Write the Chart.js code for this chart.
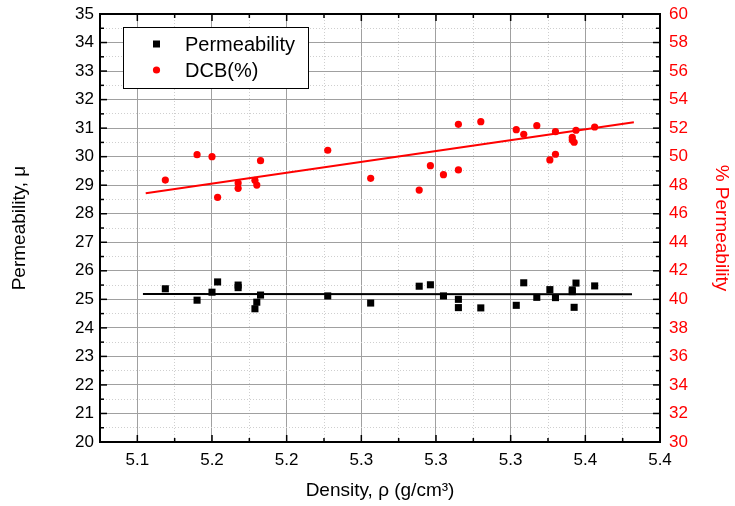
<!DOCTYPE html>
<html>
<head>
<meta charset="utf-8">
<script src="https://cdn.jsdelivr.net/npm/chart.js@4.4.1/dist/chart.umd.min.js"></script>
<style>
  body { margin: 0; background: #fff; }
</style>
</head>
<body>
<canvas id="densityChart" width="735" height="506"></canvas>
<script>
// Permeability (left axis) vs density
const densPerm = [5.155, 5.172, 5.180, 5.183, 5.194, 5.194, 5.203, 5.204, 5.206, 5.242, 5.265, 5.291, 5.297, 5.304,
  5.312, 5.312, 5.324, 5.343, 5.347, 5.354, 5.361, 5.364, 5.373, 5.373, 5.374, 5.375, 5.385];
const permeability = [25.37, 24.97, 25.25, 25.61, 25.50, 25.41, 24.67, 24.90, 25.15, 25.12, 24.87, 25.46, 25.51, 25.12,
  25.00, 24.71, 24.70, 24.79, 25.58, 25.07, 25.34, 25.06, 25.33, 25.27, 24.72, 25.57, 25.47];

// DCB(%) (right axis) vs density
const densDcb = [5.155, 5.172, 5.180, 5.183, 5.194, 5.194, 5.203, 5.204, 5.206, 5.242, 5.265, 5.291, 5.297, 5.304,
  5.312, 5.312, 5.324, 5.343, 5.347, 5.354, 5.361, 5.364, 5.364, 5.373, 5.373, 5.374, 5.375, 5.385];
const dcbPercent = [48.36, 50.14, 50.00, 47.15, 48.15, 47.78, 48.34, 48.01, 49.72, 50.45, 48.48, 47.66, 49.37, 48.74,
  52.27, 49.07, 52.45, 51.89, 51.57, 52.17, 49.77, 50.17, 51.75, 51.36, 51.17, 51.01, 51.85, 52.08];

// Linear fits (end points)
const permFitX = [5.143, 5.405];
const permFitY = [25.19, 25.18];
const dcbFitX = [5.1445, 5.406];
const dcbFitY = [47.43, 52.41];

// X axis ticks: every 0.02, labelled every other one
const xTicks = [5.12, 5.14, 5.16, 5.18, 5.20, 5.22, 5.24, 5.26, 5.28, 5.30, 5.32, 5.34, 5.36, 5.38, 5.40, 5.42];
const xTickLabels = ["5.1", "5.2", "5.2", "5.3", "5.3", "5.3", "5.4", "5.4"];

const FONT = "'Liberation Sans', Arial, sans-serif";
const RED = "#ff0000";

function toPoints(xs, ys) {
  return xs.map((x, i) => ({ x: x, y: ys[i] }));
}

// Fixed axis box sizes so the plot area lands where the original has it
function fixBox(size) {
  return (scale) => {
    if (scale.isHorizontal()) scale.height = size;
    else scale.width = size;
    scale.paddingTop = 0;
    scale.paddingBottom = 0;
    scale.paddingLeft = 0;
    scale.paddingRight = 0;
  };
}

// Frame with inward tick marks on all four sides
const frameTicks = {
  id: "frameTicks",
  afterDraw(chart) {
    const { ctx, chartArea: a, scales } = chart;
    const seg = (x1, y1, x2, y2) => {
      ctx.beginPath();
      ctx.moveTo(x1, y1);
      ctx.lineTo(x2, y2);
      ctx.stroke();
    };
    ctx.save();
    ctx.strokeStyle = "#000";
    ctx.lineWidth = 1.5;
    scales.x.ticks.forEach((t, i) => {
      const len = i % 2 ? 7 : 4;
      const px = scales.x.getPixelForValue(t.value);
      seg(px, a.bottom, px, a.bottom - len);
      seg(px, a.top, px, a.top + len);
    });
    scales.y.ticks.forEach((t) => {
      const len = t.value % 1 === 0 ? 7 : 4;
      const py = scales.y.getPixelForValue(t.value);
      seg(a.left, py, a.left + len, py);
    });
    scales.y2.ticks.forEach((t) => {
      const len = t.value % 2 === 0 ? 7 : 4;
      const py = scales.y2.getPixelForValue(t.value);
      seg(a.right, py, a.right - len, py);
    });
    ctx.lineWidth = 2;
    ctx.strokeRect(a.left, a.top, a.right - a.left, a.bottom - a.top);
    ctx.restore();
  },
};

// Boxed legend inside the plot area
const boxLegend = {
  id: "boxLegend",
  afterDraw(chart) {
    const { ctx, chartArea: a } = chart;
    const x0 = a.left + 23;
    const y0 = a.top + 13;
    const w = 185;
    const h = 61;
    ctx.save();
    ctx.fillStyle = "#fff";
    ctx.fillRect(x0, y0, w, h);
    ctx.strokeStyle = "#000";
    ctx.lineWidth = 1;
    ctx.strokeRect(x0 + 0.5, y0 + 0.5, w, h);
    ctx.font = "20px " + FONT;
    ctx.textBaseline = "middle";
    ctx.fillStyle = "#000";
    [0, 1].forEach((k) => {
      const ds = chart.data.datasets[k];
      const cy = y0 + 17 + k * 26;
      ctx.fillStyle = ds.backgroundColor;
      if (ds.pointStyle === "rect") {
        ctx.fillRect(x0 + 30, cy - 3.5, 7, 7);
      } else {
        ctx.beginPath();
        ctx.arc(x0 + 33.5, cy, 3.6, 0, Math.PI * 2);
        ctx.fill();
      }
      ctx.fillStyle = "#000";
      ctx.fillText(ds.label, x0 + 62, cy + 1);
    });
    ctx.restore();
  },
};

const ctx = document.getElementById("densityChart");

new Chart(ctx, {
  type: "scatter",
  data: {
    datasets: [
      {
        label: "Permeability",
        data: toPoints(densPerm, permeability),
        yAxisID: "y",
        pointStyle: "rect",
        pointRadius: 5,
        backgroundColor: "#000",
        borderColor: "#000",
        borderWidth: 0,
      },
      {
        label: "DCB(%)",
        data: toPoints(densDcb, dcbPercent),
        yAxisID: "y2",
        pointStyle: "circle",
        pointRadius: 3.6,
        backgroundColor: RED,
        borderColor: RED,
        borderWidth: 0,
      },
      {
        label: "Permeability fit",
        type: "line",
        data: toPoints(permFitX, permFitY),
        yAxisID: "y",
        borderColor: "#000",
        borderWidth: 2,
        pointRadius: 0,
        fill: false,
      },
      {
        label: "DCB fit",
        type: "line",
        data: toPoints(dcbFitX, dcbFitY),
        yAxisID: "y2",
        borderColor: RED,
        borderWidth: 2,
        pointRadius: 0,
        fill: false,
      },
    ],
  },
  options: {
    responsive: false,
    animation: false,
    layout: {
      padding: { top: 14, left: 0, right: 0, bottom: 0 },
    },
    plugins: {
      legend: { display: false },
      tooltip: { enabled: false },
    },
    scales: {
      x: {
        type: "linear",
        position: "bottom",
        min: 5.12,
        max: 5.42,
        afterBuildTicks: (scale) => {
          scale.ticks = xTicks.map((v) => ({ value: v }));
        },
        afterFit: fixBox(64),
        ticks: {
          autoSkip: false,
          maxRotation: 0,
          padding: 8,
          color: "#000",
          font: { family: FONT, size: 17 },
          callback: (value, index) => (index % 2 ? xTickLabels[(index - 1) / 2] : ""),
        },
        grid: {
          drawTicks: false,
          color: (c) => (c.index % 2 ? "#a0a0a0" : "#cfcfcf"),
          lineWidth: 1,
        },
        border: {
          display: false,
          dash: (c) => (c.index % 2 ? [] : [1, 2]),
        },
        title: {
          display: true,
          text: "Density, ρ (g/cm³)",
          color: "#000",
          font: { family: FONT, size: 19 },
          padding: { top: 0, bottom: 4 },
        },
      },
      y: {
        position: "left",
        min: 20,
        max: 35,
        afterFit: fixBox(100),
        ticks: {
          stepSize: 0.5,
          autoSkip: false,
          padding: 6,
          color: "#000",
          font: { family: FONT, size: 17 },
          callback: (value) => (value % 1 === 0 ? value : ""),
        },
        grid: {
          drawTicks: false,
          color: (c) => (c.tick && c.tick.value % 1 === 0 ? "#a0a0a0" : "#cfcfcf"),
          lineWidth: 1,
        },
        border: {
          display: false,
          dash: (c) => (c.tick && c.tick.value % 1 === 0 ? [] : [1, 2]),
        },
        title: {
          display: true,
          text: "Permeability, μ",
          color: "#000",
          font: { family: FONT, size: 19 },
          padding: { top: 8, bottom: 0 },
        },
      },
      y2: {
        position: "right",
        min: 30,
        max: 60,
        afterFit: fixBox(75),
        ticks: {
          stepSize: 1,
          autoSkip: false,
          padding: 9,
          color: RED,
          font: { family: FONT, size: 17 },
          callback: (value) => (value % 2 === 0 ? value : ""),
        },
        grid: {
          drawOnChartArea: false,
          drawTicks: false,
        },
        border: { display: false },
        title: {
          display: true,
          text: "% Permeability",
          color: RED,
          font: { family: FONT, size: 19 },
          padding: { top: 2, bottom: 0 },
        },
      },
    },
  },
  plugins: [frameTicks, boxLegend],
});
</script>
</body>
</html>
